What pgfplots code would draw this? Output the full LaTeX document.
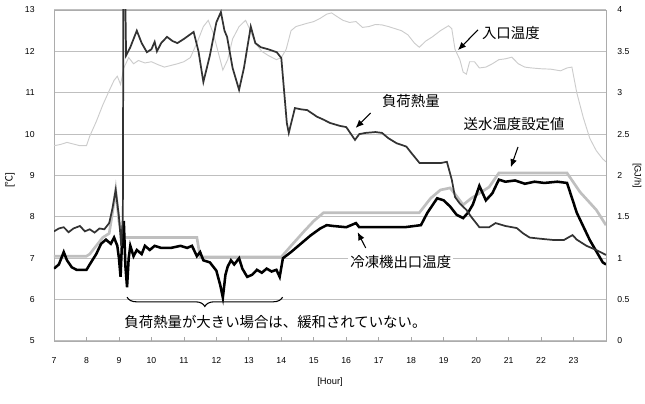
\documentclass[border=0pt]{standalone}
\usepackage{fontspec}
\setmainfont{Liberation Sans}
\newfontfamily\jp{Noto Sans CJK JP}
\usepackage{pgfplots}
\pgfplotsset{compat=1.18}
\usetikzlibrary{arrows.meta,decorations.pathreplacing}

\pgfplotstableread{
x y
7.0 9.72
7.2 9.75
7.4 9.8
7.6 9.76
7.8 9.72
8.0 9.72
8.1 9.95
8.3 10.3
8.5 10.7
8.7 11.05
8.85 11.3
8.95 11.4
9.05 11.2
9.15 11.6
9.3 11.85
9.45 11.7
9.6 11.78
9.8 11.72
10.0 11.75
10.2 11.68
10.4 11.62
10.6 11.66
10.8 11.7
11.0 11.75
11.2 11.85
11.4 12.2
11.6 12.6
11.75 12.75
11.9 12.45
12.05 12.0
12.2 11.55
12.35 11.8
12.5 12.3
12.7 12.6
12.9 12.75
13.05 12.5
13.2 12.2
13.4 12.0
13.6 11.9
13.85 11.8
14.0 11.85
14.15 12.05
14.3 12.5
14.45 12.6
14.8 12.68
15.0 12.72
15.2 12.8
15.4 12.9
15.55 12.93
15.7 12.85
15.9 12.75
16.1 12.7
16.3 12.72
16.5 12.58
16.7 12.6
16.9 12.65
17.1 12.64
17.3 12.6
17.5 12.55
17.7 12.5
17.9 12.4
18.1 12.2
18.25 12.1
18.45 12.25
18.65 12.35
18.9 12.5
19.15 12.62
19.25 12.55
19.35 12.05
19.5 11.8
19.6 11.5
19.7 11.45
19.8 11.75
19.95 11.75
20.1 11.6
20.3 11.62
20.5 11.7
20.7 11.8
20.9 11.82
21.1 11.86
21.3 11.7
21.5 11.62
21.7 11.6
22.0 11.58
22.3 11.57
22.6 11.53
22.8 11.6
22.95 11.62
23.1 11.0
23.3 10.4
23.5 9.9
23.7 9.6
23.9 9.4
24.0 9.33
}\inlet

\pgfplotstableread{
x y
7.0 7.05
8.0 7.05
8.1 7.1
8.3 7.3
8.5 7.5
8.7 7.6
8.8 8.1
8.9 8.65
9.0 7.9
9.1 7.5
9.2 7.5
10.0 7.5
11.0 7.5
11.4 7.5
11.5 7.03
12.0 7.03
13.0 7.03
14.0 7.03
14.3 7.3
14.7 7.65
15.0 7.9
15.3 8.1
16.0 8.1
17.0 8.1
18.25 8.1
18.6 8.45
18.9 8.65
19.2 8.7
19.4 8.5
19.6 8.29
19.85 8.45
20.1 8.57
20.4 8.72
20.7 9.06
21.5 9.06
22.3 9.06
22.8 9.06
23.2 8.6
23.7 8.17
24.0 7.8
}\setpoint

\pgfplotstableread{
x y
7.0 6.75
7.15 6.85
7.3 7.15
7.4 6.95
7.55 6.78
7.7 6.72
8.0 6.72
8.1 6.85
8.3 7.1
8.45 7.35
8.6 7.45
8.75 7.35
8.85 7.5
8.95 7.3
9.0 7.0
9.05 6.55
9.1 7.5
9.15 7.9
9.2 6.8
9.25 6.3
9.3 7.0
9.35 7.3
9.45 7.05
9.55 7.2
9.7 7.1
9.8 7.3
9.95 7.2
10.1 7.3
10.3 7.25
10.6 7.25
10.9 7.3
11.1 7.25
11.25 7.3
11.4 7.05
11.5 7.15
11.6 6.95
11.8 6.9
12.0 6.7
12.12 6.35
12.2 6.05
12.28 6.6
12.35 6.8
12.45 6.95
12.55 6.85
12.7 7.0
12.8 6.75
12.95 6.55
13.1 6.6
13.25 6.72
13.4 6.65
13.55 6.75
13.7 6.68
13.85 6.72
13.95 6.55
14.05 7.0
14.3 7.15
14.6 7.35
14.9 7.55
15.2 7.72
15.4 7.8
15.6 7.78
16.0 7.75
16.3 7.85
16.4 7.75
16.7 7.75
17.2 7.75
17.8 7.75
18.3 7.8
18.5 8.1
18.8 8.45
19.0 8.4
19.2 8.25
19.4 8.05
19.6 7.97
19.75 8.1
19.9 8.3
20.1 8.75
20.3 8.4
20.5 8.57
20.7 8.9
20.9 8.85
21.2 8.88
21.5 8.8
21.8 8.85
22.1 8.82
22.5 8.85
22.8 8.82
23.1 8.1
23.5 7.44
23.9 6.9
24.0 6.85
}\outlet

\pgfplotstableread{
x y
7.0 1.325
7.15 1.36
7.3 1.375
7.45 1.315
7.6 1.36
7.8 1.39
7.95 1.325
8.1 1.35
8.25 1.31
8.4 1.36
8.55 1.35
8.7 1.425
8.8 1.6
8.9 1.825
9.0 1.5
9.07 1.15
9.12 1.5
9.14 4.6
9.18 4.6
9.22 3.45
9.35 3.55
9.55 3.75
9.7 3.6
9.86 3.49
10.0 3.525
10.1 3.615
10.17 3.5
10.3 3.6
10.48 3.675
10.65 3.625
10.8 3.6
11.0 3.65
11.3 3.735
11.45 3.5
11.6 3.13
11.8 3.45
12.0 3.85
12.14 3.975
12.25 3.75
12.33 3.675
12.5 3.3
12.7 3.035
12.85 3.3
13.06 3.8
13.2 3.6
13.37 3.55
13.6 3.525
13.86 3.49
14.0 3.42
14.17 2.635
14.23 2.515
14.42 2.815
14.6 2.8
14.8 2.79
15.1 2.71
15.3 2.675
15.5 2.635
15.8 2.6
16.0 2.585
16.27 2.43
16.4 2.5
16.6 2.515
16.9 2.525
17.1 2.515
17.3 2.45
17.55 2.39
17.85 2.35
18.0 2.275
18.26 2.15
18.5 2.15
18.9 2.15
19.1 2.165
19.25 1.95
19.35 1.74
19.5 1.66
19.7 1.585
19.85 1.5
20.1 1.375
20.4 1.375
20.6 1.425
20.9 1.39
21.25 1.365
21.45 1.3
21.65 1.25
22.0 1.235
22.4 1.22
22.7 1.22
22.97 1.28
23.1 1.225
23.4 1.15
23.7 1.1
24.0 1.04
}\load

\begin{document}
\begin{tikzpicture}[x=1pt,y=1pt]
\path[use as bounding box] (-40.5,-46.5) rectangle (443.25,255.75);
\begin{axis}[
  at={(0,0)}, anchor=south west,
  scale only axis, width=414pt, height=248.25pt,
  xmin=7, xmax=24, ymin=5, ymax=13,
  xtick={7,...,23}, ytick={5,...,13},
  xtick pos=bottom, ytick pos=left,
  xtick style={gray!70, line width=0.5pt},
  major tick length=3pt,
  ytick style={draw=none},
  ymajorgrids, grid style={gray!50, line width=0.9pt},
  axis line style={gray!65, line width=0.6pt},
  tick label style={font=\fontsize{6.5}{7}\selectfont, /pgf/number format/assume math mode=true},
  xticklabel style={yshift=-9pt},
  yticklabel style={xshift=-11pt},
  xlabel={[Hour]},
  xlabel style={at={(axis description cs:0.5,-0.125)}, anchor=center, font=\fontsize{7}{8}\selectfont},
  ylabel={[{\jp ℃}]},
  ylabel style={at={(axis description cs:-0.08,0.486)}, anchor=center, font=\fontsize{7.5}{8}\selectfont},
]
\addplot[gray!40, line width=0.7pt] table {\inlet};
\addplot[gray!50, line width=2pt] table {\setpoint};
\addplot[black, line width=1.9pt] table {\outlet};

\node[font=\jp\fontsize{10.8}{12}\selectfont] at (21.07,12.44) {入口温度};
\draw[line width=0.8pt, -{Latex[length=6pt,width=5pt]}] (20.06,12.52) -- (19.44,12.03);
\node[font=\jp\fontsize{10.8}{12}\selectfont] at (17.99,10.8) {負荷熱量};
\draw[line width=0.8pt, -{Latex[length=6pt,width=5pt]}] (16.75,10.51) -- (16.29,10.15);
\node[font=\jp\fontsize{10.8}{12}\selectfont] at (21.17,10.24) {送水温度設定値};
\draw[line width=0.8pt, -{Latex[length=6pt,width=5pt]}] (21.29,9.69) -- (21.07,9.2);
\node[font=\jp\fontsize{10.8}{12}\selectfont, fill=white, inner sep=1.5pt] at (17.68,6.91) {冷凍機出口温度};
\draw[line width=0.8pt, -{Latex[length=6pt,width=5pt]}] (16.6,7.25) -- (16.35,7.63);
\draw[line width=0.8pt, decorate, decoration={brace, mirror, amplitude=7pt}] (9.25,6.06) -- (14.04,6.06);
\node[font=\jp\fontsize{10.8}{12}\selectfont] at (13.82,5.46) {負荷熱量が大きい場合は、緩和されていない。};
\end{axis}
\begin{axis}[
  at={(0,0)}, anchor=south west,
  scale only axis, width=414pt, height=248.25pt,
  xmin=7, xmax=24, ymin=0, ymax=4,
  axis x line=none, axis y line*=right,
  ytick={0,0.5,...,4},
  ytick style={draw=none},
  y axis line style={gray!65, line width=0.6pt},
  tick label style={font=\fontsize{6.5}{7}\selectfont, /pgf/number format/assume math mode=true},
  yticklabel style={xshift=5pt},
  ylabel={[GJ/h]},
  ylabel style={at={(axis description cs:1.056,0.50)}, anchor=center, rotate=180, font=\fontsize{7}{8}\selectfont},
]
\addplot[black!80, line width=1.3pt] table {\load};
\end{axis}
\end{tikzpicture}
\end{document}
